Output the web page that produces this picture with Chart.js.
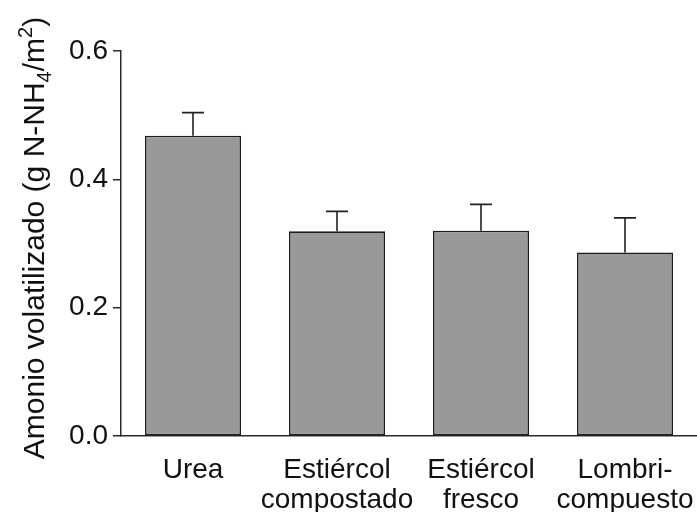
<!DOCTYPE html>
<html>
<head>
<meta charset="utf-8">
<script src="https://cdn.jsdelivr.net/npm/chart.js@4"></script>
<style>
  html, body { margin: 0; padding: 0; background: #fff; }
  #wrap { width: 697px; height: 512px; }
</style>
</head>
<body>
<div id="wrap"><canvas id="chart" width="697" height="512"></canvas></div>
<script>
// Categories and values
const categories = [['Urea'], ['Estiércol', 'compostado'], ['Estiércol', 'fresco'], ['Lombri-', 'compuesto']];
const meanValues = [0.468, 0.319, 0.320, 0.286];
const errorTops = [0.504, 0.350, 0.361, 0.340];
const yTicks = [0, 0.2, 0.4, 0.6];

const FONT = '"Liberation Sans", Arial, sans-serif';
const AXIS_COLOR = '#2b2b2b';

// error bars drawn on top of the bars, from the library's scales
const errorBarPlugin = {
  id: 'errorBars',
  afterDatasetsDraw(chart) {
    const { ctx, scales: { y } } = chart;
    const meta = chart.getDatasetMeta(0);
    ctx.save();
    ctx.strokeStyle = '#222';
    ctx.lineWidth = 1.6;
    meta.data.forEach((bar, i) => {
      const top = y.getPixelForValue(errorTops[i]);
      const base = y.getPixelForValue(meanValues[i]);
      ctx.beginPath();
      ctx.moveTo(bar.x, base);
      ctx.lineTo(bar.x, top);
      ctx.moveTo(bar.x - 11, top);
      ctx.lineTo(bar.x + 11, top);
      ctx.stroke();
    });
    ctx.restore();
  }
};

// rotated y title with subscript 4 and superscript 2
const yTitlePlugin = {
  id: 'yTitle',
  afterDraw(chart) {
    const { ctx } = chart;
    const parts = [
      { t: 'Amonio volatilizado (g N-NH', size: 30, dy: 0 },
      { t: '4', size: 20, dy: 7 },
      { t: '/m', size: 30, dy: 0 },
      { t: '2', size: 20, dy: -12 },
      { t: ')', size: 30, dy: 0 }
    ];
    ctx.save();
    ctx.fillStyle = '#111';
    ctx.textBaseline = 'alphabetic';
    let total = 0;
    parts.forEach(p => {
      ctx.font = p.size + 'px ' + FONT;
      p.w = ctx.measureText(p.t).width;
      total += p.w;
    });
    ctx.translate(44, 238);
    ctx.rotate(-Math.PI / 2);
    let x = -total / 2;
    parts.forEach(p => {
      ctx.font = p.size + 'px ' + FONT;
      ctx.fillText(p.t, x, p.dy);
      x += p.w;
    });
    ctx.restore();
  }
};

new Chart(document.getElementById('chart'), {
  type: 'bar',
  data: {
    labels: categories,
    datasets: [{
      data: meanValues,
      backgroundColor: '#999999',
      borderColor: '#1c1c1c',
      borderWidth: 1.6,
      borderSkipped: false,
      barPercentage: 0.667,
      categoryPercentage: 1.0
    }]
  },
  options: {
    responsive: false,
    animation: false,
    layout: { padding: { top: 51, right: 0, left: 0, bottom: 0 } },
    plugins: {
      legend: { display: false },
      tooltip: { enabled: false }
    },
    scales: {
      x: {
        offset: true,
        grid: { display: false },
        border: { display: true, color: AXIS_COLOR, width: 1.5 },
        ticks: {
          color: '#111',
          font: { family: FONT, size: 28, lineHeight: 1.08 },
          padding: 11,
          maxRotation: 0,
          autoSkip: false
        },
        afterFit(scale) {
          scale.height = 76;
          // let the last label run to the canvas edge, as in the picture
          scale.paddingLeft = 0;
          scale.paddingRight = 0;
        }
      },
      y: {
        min: 0,
        max: 0.6,
        afterBuildTicks(scale) { scale.ticks = yTicks.map(v => ({ value: v })); },
        grid: { drawOnChartArea: false, tickLength: 8, color: AXIS_COLOR, lineWidth: 1.5 },
        border: { display: true, color: AXIS_COLOR, width: 1.5 },
        ticks: {
          color: '#111',
          font: { family: FONT, size: 28 },
          padding: 5,
          callback: v => Number(v).toFixed(1)
        },
        afterFit(scale) { scale.width = 121; }
      }
    }
  },
  plugins: [errorBarPlugin, yTitlePlugin]
});
</script>
</body>
</html>
